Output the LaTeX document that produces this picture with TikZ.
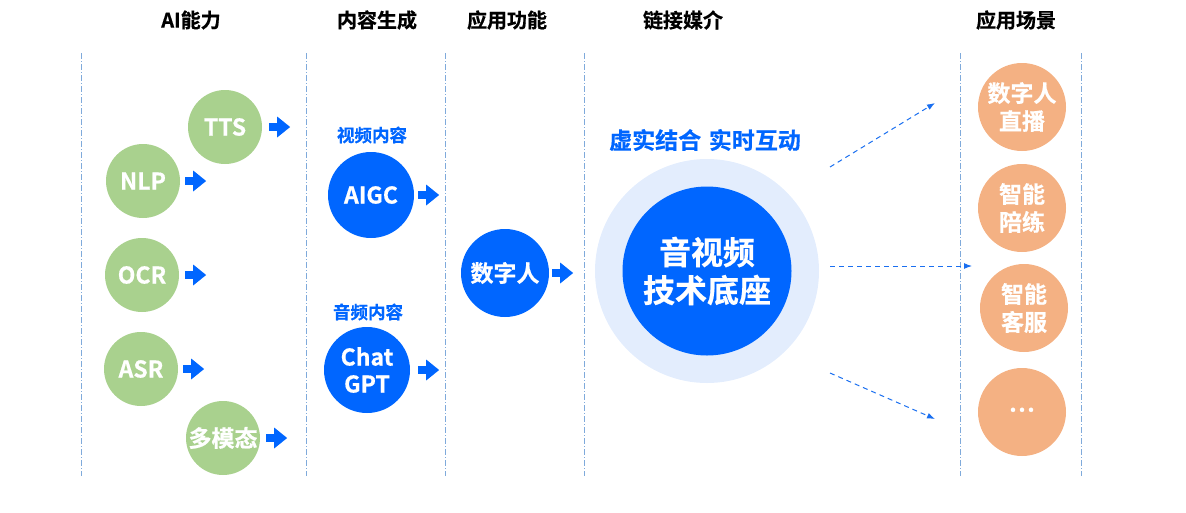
\documentclass[tikz,border=0pt]{standalone}
\usepackage{fontspec}
\setmainfont{Noto Sans CJK SC}[BoldFont={* Bold}, BoldFeatures={FakeBold=0.6}]
\usetikzlibrary{arrows.meta}
\definecolor{grn}{HTML}{A9D18E}
\definecolor{blu}{HTML}{0066FF}
\definecolor{lblu}{HTML}{E3EDFD}
\definecolor{org}{HTML}{F4B183}
\definecolor{divc}{HTML}{7FAADB}
\definecolor{arr}{HTML}{1A6FF0}
\tikzset{
  hdr/.style={font=\bfseries\fontsize{20}{20}\selectfont, text=black},
  circ/.style={circle, inner sep=0pt, text=white, align=center, font=\bfseries\fontsize{23}{27}\selectfont},
  gc/.style={circ, fill=grn, minimum size=74pt},
  bc/.style={circ, fill=blu, minimum size=86pt},
  oc/.style={circ, fill=org, minimum size=88pt, font=\bfseries\fontsize{23}{28}\selectfont},
  divl/.style={divc, line width=0.8pt, dash pattern=on 6pt off 2pt on 1pt off 2pt},
  barrow/.style={blu, line width=8pt, -{Triangle[length=13pt,width=20pt]}},
  darrow/.style={arr, line width=1pt, dash pattern=on 5pt off 4pt, -{Latex[length=8pt,width=6pt]}},
  sub/.style={text=blu, font=\bfseries\fontsize{17.5}{17.5}\selectfont}
}
\begin{document}
\begin{tikzpicture}[x=1pt,y=-1pt]
\useasboundingbox (0,0) rectangle (1186,512);
% dividers
\foreach \x in {81,306,445,584,960,1081}
  \draw[divl] (\x,53) -- (\x,476);
% headers
\node[hdr] (h1) at (191,20) {AI能力};
\node[hdr] (h2) at (377,20) {内容生成};
\node[hdr] (h3) at (507,20) {应用功能};
\node[hdr] (h4) at (683,20) {链接媒介};
\node[hdr] (h5) at (1016,20) {应用场景};
% green circles
\node[gc] (tts) at (225,127) {TTS};
\node[gc] (nlp) at (143,181) {NLP};
\node[gc] (ocr) at (142,275) {OCR};
\node[gc] (asr) at (141,369) {ASR};
\node[gc] (mm) at (223,438) {多模态};
\draw[barrow] ([xshift=7pt]tts.east) -- ++(21,0);
\draw[barrow] ([xshift=5pt]nlp.east) -- ++(21,0);
\draw[barrow] ([xshift=6pt]ocr.east) -- ++(21,0);
\draw[barrow] ([xshift=5pt]asr.east) -- ++(21,0);
\draw[barrow] ([xshift=6pt]mm.east) -- ++(21,0);
% content generation
\node[sub] (vl) at (372,135) {视频内容};
\node[bc] (aigc) at (371,195) {AIGC};
\node[sub] (al) at (368,312) {音频内容};
\node[bc] (gpt) at (367,370) {Chat\\GPT};
\draw[barrow] ([xshift=4pt]aigc.east) -- ++(21,0);
\draw[barrow] ([xshift=8pt]gpt.east) -- ++(21,0);
% function
\node[bc, minimum size=88pt] (szr) at (505,273) {数字人};
\draw[barrow] ([xshift=3pt]szr.east) -- ++(21,0);
% medium
\node[circle, fill=lblu, minimum size=224pt, inner sep=0pt] (outer) at (707,271) {};
\node[circ, fill=blu, minimum size=169pt, font=\bfseries\fontsize{32}{38}\selectfont] (core) at (707,271) {音视频\\技术底座};
\node[text=blu, font=\bfseries\fontsize{23}{23}\selectfont] (slogan) at (705,140) {虚实结合\,\,实时互动};
% scenarios
\node[oc] (s1) at (1022,107) {数字人\\直播};
\node[oc] (s2) at (1022,208) {智能\\陪练};
\node[oc] (s3) at (1024,308) {智能\\客服};
\node[oc, font=\bfseries\fontsize{17}{17}\selectfont] (s4) at (1022,412) {•\kern-8pt•\kern-8pt•};
\coordinate (a1s) at (830,167);
\coordinate (a1e) at (935,103);
\coordinate (a2s) at (830,266);
\coordinate (a2e) at (972,266);
\coordinate (a3s) at (830,373);
\coordinate (a3e) at (935,419);
\draw[darrow] (a1s) -- (a1e);
\draw[darrow] (a2s) -- (a2e);
\draw[darrow] (a3s) -- (a3e);
\end{tikzpicture}
\end{document}
